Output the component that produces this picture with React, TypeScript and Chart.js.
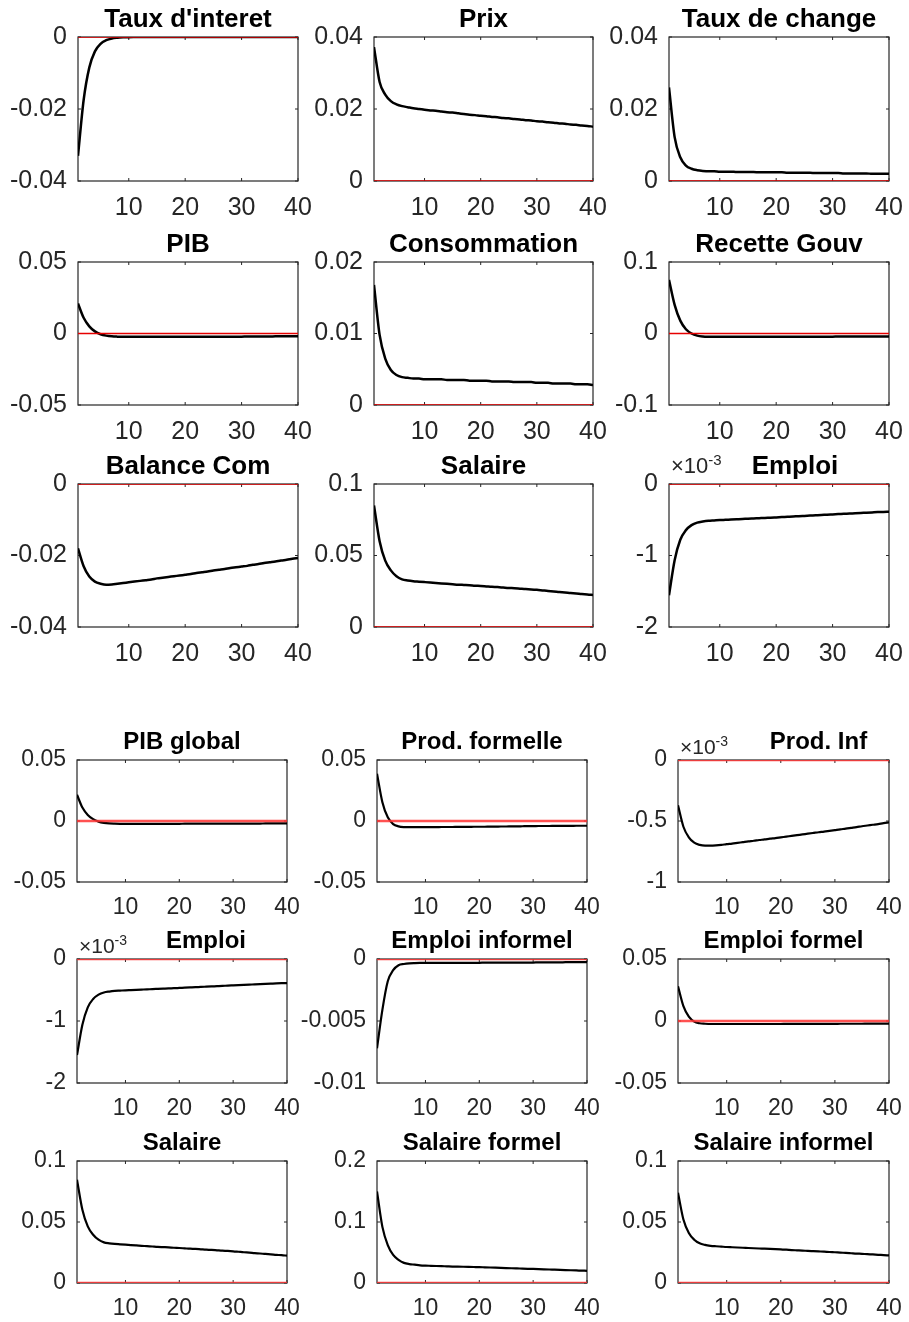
import React, { useEffect, useRef } from "react";
import { Chart, registerables } from "chart.js";

Chart.register(...registerables);
Chart.defaults.font.family = '"Liberation Sans", Arial, Helvetica, sans-serif';

// ---------- data ----------
const PERIODS = [1, 2, 3, 4, 5, 6, 7, 8, 9, 10, 11, 12, 13, 14, 15, 16, 17, 18, 19, 20,
  21, 22, 23, 24, 25, 26, 27, 28, 29, 30, 31, 32, 33, 34, 35, 36, 37, 38, 39, 40];
const X_TICKS = [10, 20, 30, 40];
const STEADY_STATE = 0;

const tauxInteret = [-0.033, -0.0175, -0.0085, -0.004, -0.0019, -0.0009, -0.0004, -0.0002, -0.0001, -0.00005,
  -0.00003, -0.00002, -0.00002, -0.00001, -0.00001, 0, 0, 0, 0, 0,
  0, 0, 0, 0, 0, 0, 0, 0, 0, 0, 0, 0, 0, 0, 0, 0, 0, 0, 0, 0];
const prix = [0.0372, 0.0275, 0.024, 0.0222, 0.0213, 0.0208, 0.0205, 0.0202, 0.02, 0.0198,
  0.0196, 0.0195, 0.0193, 0.0191, 0.019, 0.0188, 0.0186, 0.0184, 0.0183, 0.0181,
  0.018, 0.0178, 0.0177, 0.0175, 0.0174, 0.0172, 0.0171, 0.0169, 0.0168, 0.0166,
  0.0165, 0.0163, 0.0162, 0.016, 0.0159, 0.0157, 0.0156, 0.0154, 0.0153, 0.0151];
const tauxChange = [0.026, 0.0122, 0.0066, 0.0043, 0.0034, 0.003, 0.0028, 0.0027, 0.0027, 0.0026,
  0.0026, 0.0026, 0.0025, 0.0025, 0.0025, 0.0025, 0.0024, 0.0024, 0.0024, 0.0024,
  0.0024, 0.0023, 0.0023, 0.0023, 0.0023, 0.0023, 0.0022, 0.0022, 0.0022, 0.0022,
  0.0022, 0.0021, 0.0021, 0.0021, 0.0021, 0.0021, 0.002, 0.002, 0.002, 0.002];
const pib = [0.021, 0.011, 0.005, 0.0015, -0.0005, -0.0015, -0.002, -0.0022, -0.0023, -0.0023,
  -0.0023, -0.0023, -0.0023, -0.0023, -0.0023, -0.0023, -0.0023, -0.0023, -0.0023, -0.0023,
  -0.0022, -0.0022, -0.0022, -0.0022, -0.0022, -0.0022, -0.0022, -0.0022, -0.0022, -0.0022,
  -0.0021, -0.0021, -0.0021, -0.0021, -0.0021, -0.002, -0.002, -0.002, -0.002, -0.002];
const consommation = [0.0168, 0.0098, 0.0065, 0.0049, 0.0042, 0.0039, 0.0038, 0.0037, 0.0037, 0.0036,
  0.0036, 0.0036, 0.0036, 0.0035, 0.0035, 0.0035, 0.0035, 0.0034, 0.0034, 0.0034,
  0.0034, 0.0033, 0.0033, 0.0033, 0.0033, 0.0032, 0.0032, 0.0032, 0.0032, 0.0031,
  0.0031, 0.0031, 0.003, 0.003, 0.003, 0.003, 0.0029, 0.0029, 0.0029, 0.0028];
const recetteGouv = [0.075, 0.04, 0.018, 0.006, 0.0, -0.003, -0.0042, -0.0046, -0.0047, -0.0047,
  -0.0047, -0.0047, -0.0047, -0.0047, -0.0047, -0.0046, -0.0046, -0.0046, -0.0046, -0.0046,
  -0.0045, -0.0045, -0.0045, -0.0045, -0.0045, -0.0044, -0.0044, -0.0044, -0.0044, -0.0044,
  -0.0043, -0.0043, -0.0043, -0.0043, -0.0043, -0.0042, -0.0042, -0.0042, -0.0042, -0.0042];
const balanceCom = [-0.018, -0.023, -0.0259, -0.0273, -0.0279, -0.0282, -0.0281, -0.0279, -0.0277, -0.0275,
  -0.0273, -0.0271, -0.0269, -0.0267, -0.0264, -0.0262, -0.026, -0.0258, -0.0256, -0.0254,
  -0.0252, -0.0249, -0.0247, -0.0245, -0.0242, -0.024, -0.0238, -0.0235, -0.0233, -0.0231,
  -0.0229, -0.0226, -0.0224, -0.0221, -0.0219, -0.0217, -0.0214, -0.0212, -0.0209, -0.0207];
const salaire = [0.085, 0.06, 0.0464, 0.0396, 0.0355, 0.0333, 0.0325, 0.032, 0.0317, 0.0314,
  0.0311, 0.0308, 0.0305, 0.0302, 0.0299, 0.0296, 0.0294, 0.0292, 0.0289, 0.0287,
  0.0284, 0.0281, 0.0279, 0.0276, 0.0273, 0.0271, 0.0268, 0.0265, 0.0263, 0.026,
  0.0256, 0.0252, 0.0249, 0.0245, 0.0242, 0.0238, 0.0235, 0.0231, 0.0228, 0.0224];
// in units of 10^-3
const emploiE3 = [-1.556, -1.065, -0.78, -0.645, -0.575, -0.54, -0.525, -0.515, -0.51, -0.505,
  -0.501, -0.497, -0.493, -0.489, -0.486, -0.482, -0.478, -0.474, -0.471, -0.467,
  -0.463, -0.459, -0.455, -0.45, -0.446, -0.442, -0.438, -0.434, -0.429, -0.425,
  -0.421, -0.417, -0.413, -0.409, -0.405, -0.401, -0.397, -0.393, -0.39, -0.388];
const pibGlobal = [0.0215, 0.011, 0.005, 0.0015, -0.0005, -0.0015, -0.002, -0.0022, -0.0023, -0.0023,
  -0.0023, -0.0023, -0.0023, -0.0023, -0.0023, -0.0023, -0.0023, -0.0023, -0.0023, -0.0023,
  -0.0022, -0.0022, -0.0022, -0.0022, -0.0022, -0.0022, -0.0022, -0.0022, -0.0022, -0.0022,
  -0.0021, -0.0021, -0.0021, -0.0021, -0.0021, -0.002, -0.002, -0.002, -0.002, -0.002];
const prodFormelle = [0.0388, 0.0154, 0.003, -0.0025, -0.0044, -0.005, -0.0051, -0.0051, -0.0051, -0.005,
  -0.005, -0.005, -0.0049, -0.0049, -0.0049, -0.0048, -0.0048, -0.0048, -0.0047, -0.0047,
  -0.0047, -0.0046, -0.0046, -0.0045, -0.0045, -0.0044, -0.0044, -0.0043, -0.0042, -0.0042,
  -0.0041, -0.0041, -0.0041, -0.004, -0.004, -0.004, -0.004, -0.0039, -0.0039, -0.0039];
// in units of 10^-3
const prodInfE3 = [-0.371, -0.547, -0.634, -0.678, -0.696, -0.702, -0.702, -0.7, -0.696, -0.69,
  -0.685, -0.679, -0.673, -0.667, -0.662, -0.656, -0.651, -0.645, -0.64, -0.634,
  -0.628, -0.622, -0.616, -0.61, -0.604, -0.598, -0.592, -0.587, -0.581, -0.575,
  -0.569, -0.562, -0.556, -0.55, -0.543, -0.537, -0.531, -0.525, -0.518, -0.512];
const emploi2E3 = [-1.55, -1.06, -0.78, -0.645, -0.575, -0.54, -0.525, -0.515, -0.51, -0.505,
  -0.501, -0.497, -0.493, -0.489, -0.486, -0.482, -0.478, -0.474, -0.471, -0.467,
  -0.463, -0.459, -0.455, -0.45, -0.446, -0.442, -0.438, -0.434, -0.429, -0.425,
  -0.421, -0.417, -0.413, -0.409, -0.405, -0.401, -0.397, -0.393, -0.39, -0.388];
const emploiInformel = [-0.0072, -0.0041, -0.0018, -0.0009, -0.0005, -0.0004, -0.00035, -0.00033, -0.00032, -0.00032,
  -0.00031, -0.00031, -0.00031, -0.00031, -0.00031, -0.00031, -0.00031, -0.00031, -0.00031, -0.00031,
  -0.00029, -0.00029, -0.00029, -0.00029, -0.00029, -0.00029, -0.00029, -0.00029, -0.00029, -0.00029,
  -0.00027, -0.00027, -0.00027, -0.00027, -0.00027, -0.00026, -0.00026, -0.00026, -0.00026, -0.00026];
const emploiFormel = [0.028, 0.012, 0.0035, -0.0005, -0.0018, -0.0022, -0.0024, -0.0024, -0.0024, -0.0024,
  -0.0024, -0.0024, -0.0024, -0.0024, -0.0024, -0.0024, -0.0024, -0.0024, -0.0024, -0.0024,
  -0.0023, -0.0023, -0.0023, -0.0023, -0.0023, -0.0023, -0.0023, -0.0023, -0.0023, -0.0023,
  -0.0022, -0.0022, -0.0022, -0.0022, -0.0022, -0.0021, -0.0021, -0.0021, -0.0021, -0.0021];
const salaire2 = [0.0847, 0.06, 0.0464, 0.0396, 0.0355, 0.0333, 0.0325, 0.032, 0.0317, 0.0314,
  0.0311, 0.0308, 0.0305, 0.0302, 0.0299, 0.0296, 0.0294, 0.0292, 0.0289, 0.0287,
  0.0284, 0.0281, 0.0279, 0.0276, 0.0273, 0.0271, 0.0268, 0.0265, 0.0263, 0.026,
  0.0256, 0.0252, 0.0249, 0.0245, 0.0242, 0.0238, 0.0235, 0.0231, 0.0228, 0.0224];
const salaireFormel = [0.15, 0.092, 0.062, 0.046, 0.038, 0.033, 0.031, 0.03, 0.029, 0.0285,
  0.0282, 0.0279, 0.0276, 0.0273, 0.027, 0.0268, 0.0266, 0.0264, 0.0262, 0.026,
  0.0257, 0.0254, 0.0251, 0.0248, 0.0245, 0.0242, 0.0239, 0.0236, 0.0233, 0.023,
  0.0227, 0.0224, 0.0221, 0.0218, 0.0215, 0.0212, 0.0209, 0.0206, 0.0203, 0.02];
const salaireInformel = [0.074, 0.052, 0.041, 0.0355, 0.0325, 0.0312, 0.0305, 0.0301, 0.0298, 0.0295,
  0.0293, 0.0291, 0.0289, 0.0287, 0.0285, 0.0283, 0.0281, 0.0279, 0.0277, 0.0275,
  0.0273, 0.027, 0.0268, 0.0266, 0.0263, 0.0261, 0.0259, 0.0257, 0.0254, 0.0252,
  0.0249, 0.0247, 0.0244, 0.0241, 0.0239, 0.0236, 0.0234, 0.0231, 0.0229, 0.0226];

// y tick sets
const T_N04_0 = [-0.04, -0.02, 0];
const L_N04_0 = ["-0.04", "-0.02", "0"];
const T_0_04 = [0, 0.02, 0.04];
const L_0_04 = ["0", "0.02", "0.04"];
const T_PM05 = [-0.05, 0, 0.05];
const L_PM05 = ["-0.05", "0", "0.05"];
const T_0_002 = [0, 0.01, 0.02];
const L_0_002 = ["0", "0.01", "0.02"];
const T_PM1 = [-0.1, 0, 0.1];
const L_PM1 = ["-0.1", "0", "0.1"];
const T_0_1 = [0, 0.05, 0.1];
const L_0_1 = ["0", "0.05", "0.1"];
const T_N2_0 = [-2, -1, 0];
const L_N2_0 = ["-2", "-1", "0"];
const T_N1_0 = [-1, -0.5, 0];
const L_N1_0 = ["-1", "-0.5", "0"];
const T_N001_0 = [-0.01, -0.005, 0];
const L_N001_0 = ["-0.01", "-0.005", "0"];
const T_0_2 = [0, 0.1, 0.2];
const L_0_2 = ["0", "0.1", "0.2"];

// ---------- layout ----------
const TOP_COLS = [[78, 298], [374, 593], [669, 889]];
const TOP_ROWS = [[37, 181], [262, 405], [484, 627]];
const BOT_COLS = [[77, 287], [377, 587], [678, 889]];
const BOT_ROWS = [[760, 882], [959, 1083], [1161, 1283]];

type PanelSpec = {
  title: string;
  values: number[];
  ticks: number[];
  labels: string[];
  group: "top" | "bottom";
  row: number;
  col: number;
  exp?: boolean;
  titleShift?: number;
};

const PANELS: PanelSpec[] = [
  { title: "Taux d'interet", values: tauxInteret, ticks: T_N04_0, labels: L_N04_0, group: "top", row: 0, col: 0 },
  { title: "Prix", values: prix, ticks: T_0_04, labels: L_0_04, group: "top", row: 0, col: 1 },
  { title: "Taux de change", values: tauxChange, ticks: T_0_04, labels: L_0_04, group: "top", row: 0, col: 2 },
  { title: "PIB", values: pib, ticks: T_PM05, labels: L_PM05, group: "top", row: 1, col: 0 },
  { title: "Consommation", values: consommation, ticks: T_0_002, labels: L_0_002, group: "top", row: 1, col: 1 },
  { title: "Recette Gouv", values: recetteGouv, ticks: T_PM1, labels: L_PM1, group: "top", row: 1, col: 2 },
  { title: "Balance Com", values: balanceCom, ticks: T_N04_0, labels: L_N04_0, group: "top", row: 2, col: 0 },
  { title: "Salaire", values: salaire, ticks: T_0_1, labels: L_0_1, group: "top", row: 2, col: 1 },
  { title: "Emploi", values: emploiE3, ticks: T_N2_0, labels: L_N2_0, group: "top", row: 2, col: 2, exp: true, titleShift: 16 },
  { title: "PIB global", values: pibGlobal, ticks: T_PM05, labels: L_PM05, group: "bottom", row: 0, col: 0 },
  { title: "Prod. formelle", values: prodFormelle, ticks: T_PM05, labels: L_PM05, group: "bottom", row: 0, col: 1 },
  { title: "Prod. Inf", values: prodInfE3, ticks: T_N1_0, labels: L_N1_0, group: "bottom", row: 0, col: 2, exp: true, titleShift: 35 },
  { title: "Emploi", values: emploi2E3, ticks: T_N2_0, labels: L_N2_0, group: "bottom", row: 1, col: 0, exp: true, titleShift: 24 },
  { title: "Emploi informel", values: emploiInformel, ticks: T_N001_0, labels: L_N001_0, group: "bottom", row: 1, col: 1 },
  { title: "Emploi formel", values: emploiFormel, ticks: T_PM05, labels: L_PM05, group: "bottom", row: 1, col: 2 },
  { title: "Salaire", values: salaire2, ticks: T_0_1, labels: L_0_1, group: "bottom", row: 2, col: 0 },
  { title: "Salaire formel", values: salaireFormel, ticks: T_0_2, labels: L_0_2, group: "bottom", row: 2, col: 1 },
  { title: "Salaire informel", values: salaireInformel, ticks: T_0_1, labels: L_0_1, group: "bottom", row: 2, col: 2 },
];

const LM = 95;
const TM = 48;
const RM = 26;
const BM = 48;
const AXIS_COLOR = "#262626";
const FONT = '"Liberation Sans", Arial, Helvetica, sans-serif';

function Panel({ spec }: { spec: PanelSpec }) {
  const ref = useRef<HTMLCanvasElement | null>(null);
  const top = spec.group === "top";
  const cols = top ? TOP_COLS : BOT_COLS;
  const rows = top ? TOP_ROWS : BOT_ROWS;
  const [pl, pr] = cols[spec.col];
  const [pt, pb] = rows[spec.row];
  const cw = pr - pl + LM + RM;
  const ch = pb - pt + TM + BM;

  useEffect(() => {
    const canvas = ref.current;
    if (!canvas) return;
    const tickSize = top ? 25 : 23;
    const titleSize = top ? 26 : 24;
    const titleGap = top ? 10 : 11;
    const expGap = top ? 11 : 6;

    const framePlugin = {
      id: "frame",
      beforeDatasetsDraw(chart: any) {
        const { ctx, chartArea } = chart;
        const { left, right, top: t, bottom } = chartArea;
        ctx.save();
        ctx.strokeStyle = AXIS_COLOR;
        ctx.lineWidth = 1.2;
        ctx.strokeRect(left, t, right - left, bottom - t);
        const xs = chart.scales.x;
        const ys = chart.scales.y;
        ctx.lineWidth = 1;
        ctx.beginPath();
        for (const v of X_TICKS) {
          const px = xs.getPixelForValue(v);
          ctx.moveTo(px, bottom);
          ctx.lineTo(px, bottom - 3);
          ctx.moveTo(px, t);
          ctx.lineTo(px, t + 3);
        }
        for (const v of spec.ticks) {
          const py = ys.getPixelForValue(v);
          ctx.moveTo(left, py);
          ctx.lineTo(left + 3, py);
          ctx.moveTo(right, py);
          ctx.lineTo(right - 3, py);
        }
        ctx.stroke();
        ctx.restore();
      },
      afterDraw(chart: any) {
        const { ctx, chartArea } = chart;
        const { left, right, top: t } = chartArea;
        ctx.save();
        ctx.fillStyle = "#000";
        ctx.font = `bold ${titleSize}px ${FONT}`;
        ctx.textAlign = "center";
        ctx.textBaseline = "alphabetic";
        ctx.fillText(spec.title, (left + right) / 2 + (spec.titleShift || 0), t - titleGap);
        if (spec.exp) {
          ctx.fillStyle = AXIS_COLOR;
          ctx.textAlign = "left";
          const big = top ? 22 : 21;
          const small = top ? 15 : 14;
          ctx.font = `${big}px ${FONT}`;
          const base = "\u00d710";
          const x0 = left + 2;
          ctx.fillText(base, x0, t - expGap);
          const w = ctx.measureText(base).width;
          ctx.font = `${small}px ${FONT}`;
          ctx.fillText("-3", x0 + w, t - expGap - 8);
        }
        ctx.restore();
      },
    };

    const chart = new Chart(canvas, {
      type: "line",
      data: {
        datasets: [
          {
            data: PERIODS.map((x) => ({ x, y: STEADY_STATE })),
            borderColor: top ? "#e60000" : "rgba(255,50,50,0.85)",
            borderWidth: top ? 1.6 : 2.6,
            pointRadius: 0,
            tension: 0,
            order: 0,
          },
          {
            data: PERIODS.map((x, i) => ({ x, y: spec.values[i] })),
            borderColor: "#000000",
            borderWidth: top ? 2.5 : 2.2,
            pointRadius: 0,
            cubicInterpolationMode: "monotone",
            borderJoinStyle: "round",
            order: 1,
          },
        ],
      },
      options: {
        responsive: false,
        animation: false,
        events: [],
        layout: { padding: { top: TM, right: RM, left: 0, bottom: 0 } },
        plugins: {
          legend: { display: false },
          tooltip: { enabled: false },
          title: { display: false },
        },
        scales: {
          x: {
            type: "linear",
            min: 1,
            max: 40,
            grid: { display: false, drawTicks: false },
            border: { display: false },
            afterBuildTicks: (s: any) => {
              s.ticks = X_TICKS.map((v) => ({ value: v }));
            },
            afterFit: (s: any) => {
              s.height = BM;
            },
            ticks: {
              autoSkip: false,
              maxRotation: 0,
              padding: 12,
              color: AXIS_COLOR,
              font: { size: tickSize, family: FONT },
              callback: (v: any) => String(v),
            },
          },
          y: {
            type: "linear",
            min: spec.ticks[0],
            max: spec.ticks[spec.ticks.length - 1],
            grid: { display: false, drawTicks: false },
            border: { display: false },
            afterBuildTicks: (s: any) => {
              s.ticks = spec.ticks.map((v) => ({ value: v }));
            },
            afterFit: (s: any) => {
              s.width = LM;
            },
            ticks: {
              autoSkip: false,
              padding: 11,
              color: AXIS_COLOR,
              font: { size: tickSize, family: FONT },
              callback: (_v: any, i: number) => spec.labels[i],
            },
          },
        },
      } as any,
      plugins: [framePlugin],
    });
    return () => chart.destroy();
  }, []);

  return (
    <canvas
      ref={ref}
      width={cw}
      height={ch}
      style={{ position: "absolute", left: pl - LM, top: pt - TM, width: cw, height: ch }}
    />
  );
}

export default function App() {
  return (
    <div
      style={{
        position: "absolute",
        left: 0,
        top: 0,
        width: 909,
        height: 1322,
        overflow: "hidden",
        background: "#ffffff",
      }}
    >
      {PANELS.map((p, i) => (
        <Panel key={i} spec={p} />
      ))}
    </div>
  );
}
